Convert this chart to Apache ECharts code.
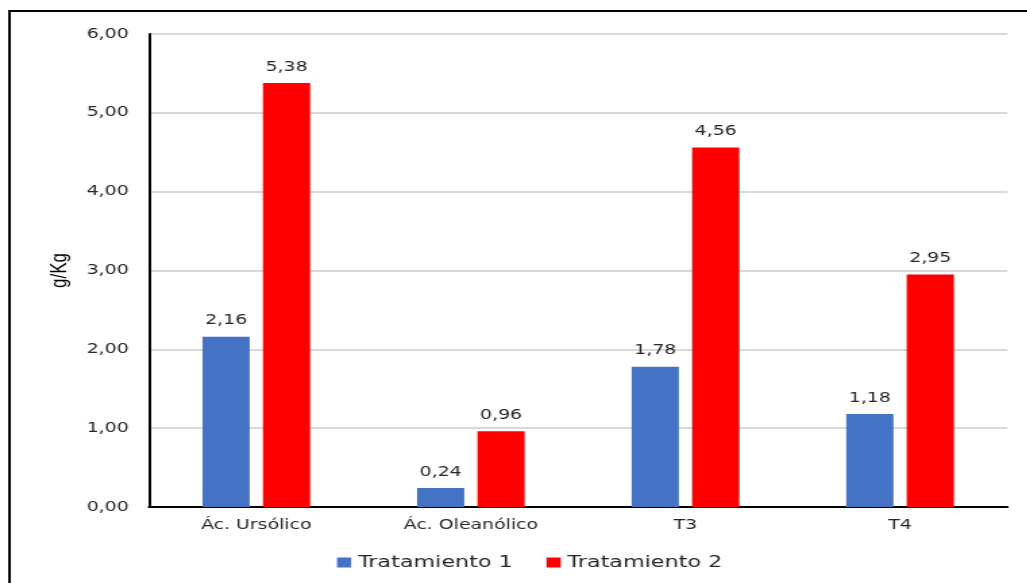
<!DOCTYPE html>
<html>
<head>
<meta charset="utf-8">
<style>
  html, body { margin: 0; padding: 0; background: #ffffff; overflow: hidden; }
  /* The chart is laid out narrower and widened horizontally, giving the broad lettering */
  #chart { width: 761px; height: 583px; transform: scaleX(1.35); transform-origin: 0 0; }
</style>
<script src="https://cdn.jsdelivr.net/npm/echarts@6/dist/echarts.min.js"></script>
</head>
<body>
<div id="chart"></div>
<script>
// Categories and the two treatment series (g/Kg)
const categories = ['Ác. Ursólico', 'Ác. Oleanólico', 'T3', 'T4'];
const tratamiento1 = [2.16, 0.24, 1.78, 1.18];
const tratamiento2 = [5.38, 0.96, 4.56, 2.95];
const seriesNames = ['Tratamiento 1', 'Tratamiento 2'];
const yTicks = { min: 0, max: 6, interval: 1 };

const SX = 1.35; // horizontal widening applied to the chart container
const fmt = v => Number(v).toFixed(2).replace('.', ',');
const textFont = 'DejaVu Sans, Verdana, sans-serif';

const chart = echarts.init(document.getElementById('chart'));

function barSeries(name, values, color) {
  return {
    name: name,
    type: 'bar',
    data: values,
    barWidth: '22%',
    barGap: '28%',
    itemStyle: { color: color },
    label: {
      show: true,
      position: 'top',
      distance: 9,
      color: '#262626',
      fontFamily: textFont,
      fontSize: 14,
      formatter: p => fmt(p.value)
    }
  };
}

chart.setOption({
  animation: false,
  backgroundColor: '#ffffff',
  graphic: [{
    type: 'rect',
    shape: { x: 9.5 / SX, y: 11, width: 800, height: 600 },
    style: { fill: 'none', stroke: '#000000', lineWidth: 2 },
    z: -1
  }],
  grid: { left: 149 / SX, right: 20 / SX, top: 34, bottom: 76 },
  legend: {
    bottom: 12,
    left: 337 / SX,
    padding: 0,
    itemWidth: 10.5,
    itemHeight: 10,
    itemGap: 25,
    icon: 'rect',
    textStyle: { fontFamily: textFont, fontSize: 16.5, color: '#262626' },
    data: seriesNames
  },
  xAxis: {
    type: 'category',
    data: categories,
    axisLine: { lineStyle: { color: '#000000', width: 2 } },
    axisTick: { show: false },
    axisLabel: { fontFamily: textFont, fontSize: 14, color: '#262626', margin: 11 }
  },
  yAxis: {
    type: 'value',
    min: yTicks.min,
    max: yTicks.max,
    interval: yTicks.interval,
    name: 'g/Kg',
    nameLocation: 'middle',
    nameGap: 52,
    nameTextStyle: { fontFamily: 'Liberation Sans, Arial, sans-serif', fontSize: 17, color: '#000000' },
    axisLine: { show: true, lineStyle: { color: '#000000', width: 2 } },
    axisTick: { show: false },
    splitLine: { lineStyle: { color: '#d9d9d9', width: 2 } },
    axisLabel: {
      fontFamily: textFont,
      fontSize: 14,
      color: '#262626',
      margin: 15,
      formatter: v => fmt(v)
    }
  },
  series: [
    barSeries(seriesNames[0], tratamiento1, '#4472c4'),
    barSeries(seriesNames[1], tratamiento2, '#ff0000')
  ]
});
</script>
</body>
</html>
